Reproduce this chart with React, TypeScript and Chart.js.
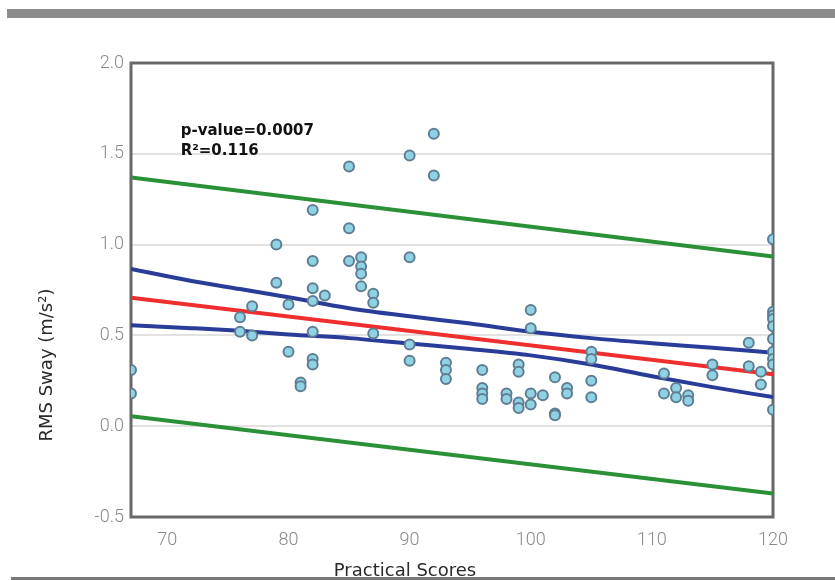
import React, { useEffect, useRef } from "react";
import { Chart, registerables } from "chart.js";

Chart.register(...registerables);

// ---- data ----
const X_TICKS = [70, 80, 90, 100, 110, 120];
const Y_TICKS = [-0.5, 0, 0.5, 1.0, 1.5, 2.0];

const scoreX = [
  67, 67,
  76, 76, 77, 77, 79, 79, 80, 80, 81, 81,
  82, 82, 82, 82, 82, 82, 82, 83,
  85, 85, 85, 86, 86, 86, 86, 87, 87, 87,
  90, 90, 90, 90, 92, 92, 93, 93, 93,
  96, 96, 96, 96, 98, 98, 99, 99, 99, 99,
  100, 100, 100, 100, 101, 102, 102, 102, 103, 103,
  105, 105, 105, 105, 111, 111, 112, 112, 113, 113,
  115, 115, 118, 118, 119, 119,
  120, 120, 120, 120, 120, 120, 120, 120, 120, 120,
];
const swayY = [
  0.31, 0.18,
  0.60, 0.52, 0.66, 0.50, 1.00, 0.79, 0.67, 0.41, 0.24, 0.22,
  1.19, 0.91, 0.76, 0.69, 0.52, 0.37, 0.34, 0.72,
  1.43, 1.09, 0.91, 0.93, 0.88, 0.84, 0.77, 0.73, 0.68, 0.51,
  1.49, 0.93, 0.45, 0.36, 1.61, 1.38, 0.35, 0.31, 0.26,
  0.31, 0.21, 0.18, 0.15, 0.18, 0.15, 0.34, 0.30, 0.13, 0.10,
  0.64, 0.54, 0.18, 0.12, 0.17, 0.27, 0.07, 0.06, 0.21, 0.18,
  0.41, 0.37, 0.25, 0.16, 0.29, 0.18, 0.21, 0.16, 0.17, 0.14,
  0.34, 0.28, 0.46, 0.33, 0.30, 0.23,
  1.03, 0.63, 0.61, 0.59, 0.55, 0.48, 0.41, 0.37, 0.34, 0.09,
];

// regression line and bands
const fitX = [67, 120];
const fitY = [0.708, 0.286];
const predUpperY = [1.37, 0.934];
const predLowerY = [0.055, -0.37];

const bandX = [67, 72, 76, 80, 85, 90, 95, 100, 105, 110, 115, 120];
const confUpperY = [0.866, 0.80, 0.755, 0.71, 0.65, 0.605, 0.565, 0.52, 0.485, 0.457, 0.432, 0.405];
const confLowerY = [0.556, 0.54, 0.525, 0.505, 0.485, 0.455, 0.425, 0.39, 0.34, 0.275, 0.215, 0.16];

const annotLines = ["p-value=0.0007", "R\u00b2=0.116"];
const xTitle = "Practical Scores";
const yTitle = "RMS Sway (m/s\u00b2)";

const pts = (xs: number[], ys: number[]) => xs.map((x, i) => ({ x, y: ys[i] }));

export default function App() {
  const ref = useRef<HTMLCanvasElement | null>(null);

  useEffect(() => {
    if (!ref.current) return;

    const decor = {
      id: "decor",
      beforeDraw(chart: any) {
        const ctx = chart.ctx;
        ctx.save();
        ctx.fillStyle = "#8c8c8c";
        ctx.fillRect(7, 9, 828, 9);
        ctx.restore();
      },
      beforeDatasetsDraw(chart: any) {
        const { ctx, chartArea: a } = chart;
        ctx.save();
        ctx.strokeStyle = "#686868";
        ctx.lineWidth = 3;
        ctx.strokeRect(a.left, a.top, a.right - a.left, a.bottom - a.top);
        ctx.restore();
      },
      afterDraw(chart: any) {
        const { ctx, chartArea: a, scales } = chart;
        ctx.save();
        // annotation
        ctx.fillStyle = "#111";
        ctx.font = "bold 15px 'DejaVu Sans', sans-serif";
        ctx.textBaseline = "middle";
        ctx.textAlign = "left";
        const ax = scales.x.getPixelForValue(71.1);
        ctx.fillText(annotLines[0], ax, scales.y.getPixelForValue(1.624));
        ctx.fillText(annotLines[1], ax, scales.y.getPixelForValue(1.514));
        // axis titles
        ctx.fillStyle = "#2a2a2a";
        ctx.font = "18px 'DejaVu Sans', sans-serif";
        ctx.textAlign = "center";
        ctx.textBaseline = "alphabetic";
        ctx.fillText(xTitle, a.left + 274, 576);
        ctx.translate(52, a.top + 302);
        ctx.rotate(-Math.PI / 2);
        ctx.fillText(yTitle, 0, 0);
        ctx.restore();
        // bottom rule
        ctx.save();
        ctx.fillStyle = "#7a7a7a";
        ctx.fillRect(11, 577, 824, 3);
        ctx.restore();
      },
    };

    const chart = new Chart(ref.current, {
      type: "scatter",
      data: {
        datasets: [
          {
            label: "data",
            data: pts(scoreX, swayY),
            backgroundColor: "#8fd2e4",
            borderColor: "#5f7e93",
            borderWidth: 2,
            pointRadius: 5,
            showLine: false,
          },
          {
            label: "fit",
            data: pts(fitX, fitY),
            showLine: true,
            borderColor: "#ef2e2e",
            borderWidth: 4,
            pointRadius: 0,
          },
          {
            label: "conf upper",
            data: pts(bandX, confUpperY),
            showLine: true,
            borderColor: "#293d98",
            borderWidth: 4,
            pointRadius: 0,
            cubicInterpolationMode: "monotone",
          },
          {
            label: "conf lower",
            data: pts(bandX, confLowerY),
            showLine: true,
            borderColor: "#293d98",
            borderWidth: 4,
            pointRadius: 0,
            cubicInterpolationMode: "monotone",
          },
          {
            label: "pred upper",
            data: pts(fitX, predUpperY),
            showLine: true,
            borderColor: "#2a9136",
            borderWidth: 4,
            pointRadius: 0,
          },
          {
            label: "pred lower",
            data: pts(fitX, predLowerY),
            showLine: true,
            borderColor: "#2a9136",
            borderWidth: 4,
            pointRadius: 0,
          },
        ],
      } as any,
      options: {
        animation: false,
        responsive: false,
        maintainAspectRatio: false,
        layout: { padding: { left: 0, top: 63, right: 62, bottom: 0 } },
        plugins: { legend: { display: false }, tooltip: { enabled: false } },
        scales: {
          x: {
            type: "linear",
            min: 67,
            max: 120,
            afterBuildTicks: (s: any) => {
              s.ticks = X_TICKS.map((v) => ({ value: v }));
            },
            afterFit: (s: any) => {
              s.height = 63;
            },
            grid: { display: false, drawTicks: false },
            border: { display: false },
            ticks: {
              color: "#8a8a8a",
              font: { family: "Roboto", size: 18, weight: "300" },
              padding: 13,
              maxRotation: 0,
            },
          },
          y: {
            type: "linear",
            min: -0.5,
            max: 2.0,
            afterBuildTicks: (s: any) => {
              s.ticks = Y_TICKS.map((v) => ({ value: v }));
            },
            afterFit: (s: any) => {
              s.width = 131;
            },
            grid: {
              drawTicks: false,
              lineWidth: 2,
              color: (c: any) =>
                c.tick && (c.tick.value <= -0.5 || c.tick.value >= 2.0) ? "rgba(0,0,0,0)" : "#e2e2e2",
            },
            border: { display: false },
            ticks: {
              color: "#8a8a8a",
              font: { family: "Roboto", size: 18, weight: "300" },
              padding: 7,
              callback: (v: any) => Number(v).toFixed(1),
            },
          },
        },
      } as any,
      plugins: [decor],
    });

    return () => chart.destroy();
  }, []);

  return (
    <div style={{ position: "fixed", left: 0, top: 0, width: 835, height: 580, background: "#fff" }}>
      <canvas ref={ref} width={835} height={580} style={{ width: 835, height: 580, display: "block" }} />
    </div>
  );
}
